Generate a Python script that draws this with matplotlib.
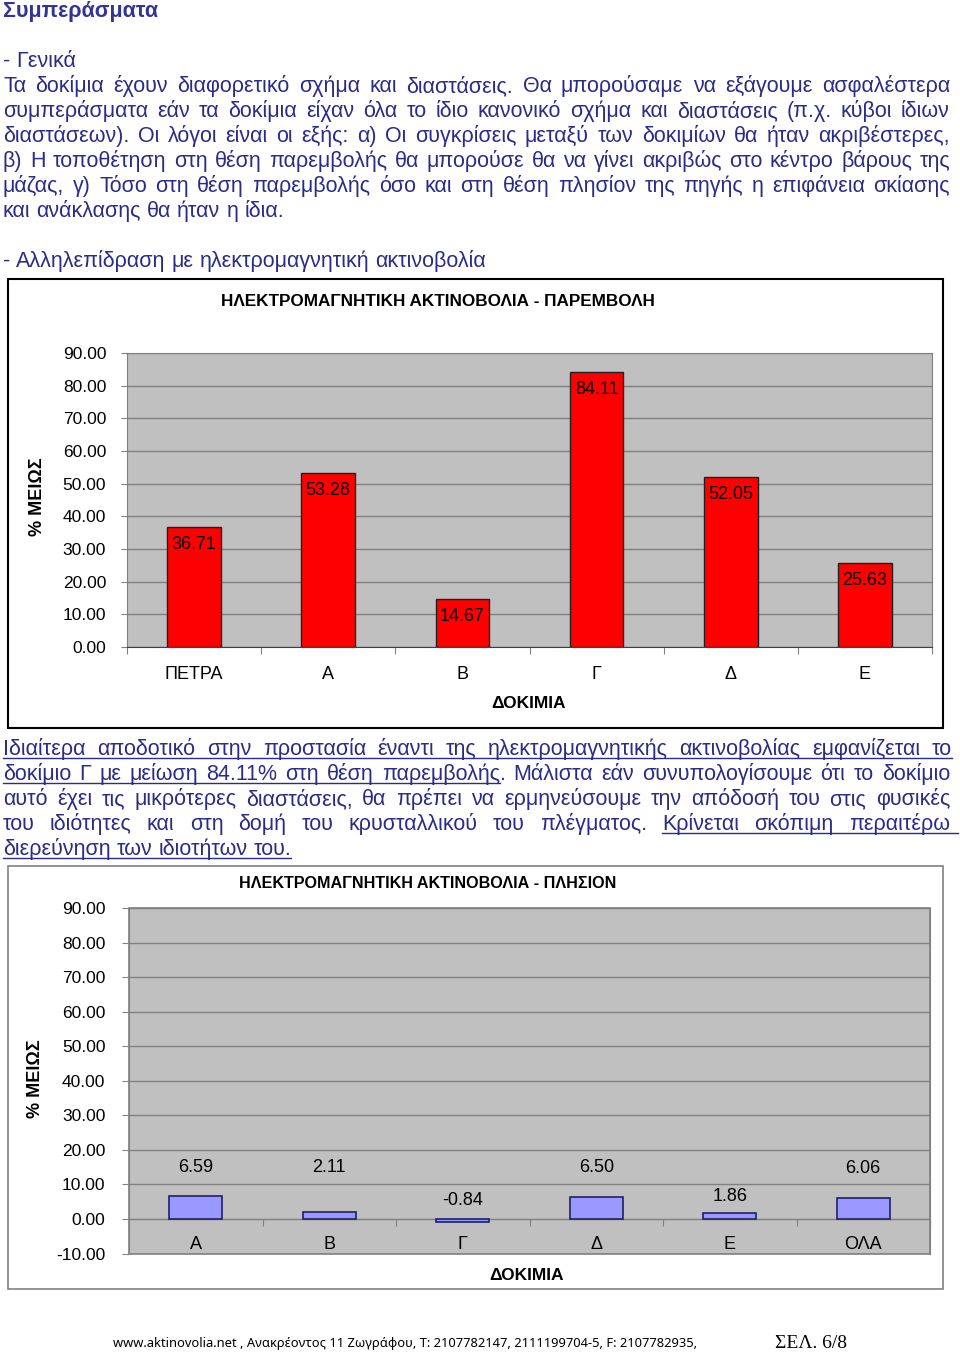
import numpy as np
import matplotlib.pyplot as plt
from matplotlib.patches import Rectangle

plt.rcParams['font.family'] = ['Liberation Sans', 'DejaVu Sans']

# chart data
categories_1 = ['ΠΕΤΡΑ', 'Α', 'Β', 'Γ', 'Δ', 'Ε']
values_1 = [36.71, 53.28, 14.67, 84.11, 52.05, 25.63]
y_ticks_1 = [0, 10, 20, 30, 40, 50, 60, 70, 80, 90]

categories_2 = ['Α', 'Β', 'Γ', 'Δ', 'Ε', 'ΟΛΑ']
values_2 = [6.59, 2.11, -0.84, 6.50, 1.86, 6.06]
y_ticks_2 = [-10, 0, 10, 20, 30, 40, 50, 60, 70, 80, 90]

# excel put the labels of the second chart at these heights
label_y_2 = [15.0, 15.0, 5.3, 15.0, 6.4, 14.6]

W, H = 960, 1352
NAVY = '#2B2B88'
FS = 15.5

fig = plt.figure(figsize=(W / 100, H / 100), dpi=100)
page = fig.add_axes([0, 0, 1, 1])
page.set_xlim(0, W)
page.set_ylim(H, 0)
page.axis('off')
renderer = fig.canvas.get_renderer()

SPACE = 0.278 * FS * 100 / 72


def px_rect(l, t, r, b):
    return [l / W, 1 - b / H, (r - l) / W, (b - t) / H]


def write_line(y, line, x1=None, underline=None, underline_to=None, x0=3):
    # '|' glues two pieces together without a space
    words = [w.split('|') for w in line.split(' ')]
    pieces = []
    for w in words:
        objs = [page.text(x0, y, p, va='baseline', ha='left', fontsize=FS, color=NAVY) for p in w]
        ws = [o.get_window_extent(renderer).width for o in objs]
        pieces.append((objs, ws))
    total = sum(sum(ws) for _, ws in pieces)
    gap = SPACE if x1 is None else (x1 - x0 - total) / (len(pieces) - 1)
    x = x0
    spans = []
    for objs, ws in pieces:
        for o, w in zip(objs, ws):
            o.set_x(x)
            spans.append((x, x + w))
            x += w
        x += gap
    if underline is not None:
        a, b = underline
        end = underline_to if underline_to else spans[b][1]
        page.plot([spans[a][0], end], [y + 3, y + 3], color=NAVY, lw=1)


# header text
page.text(3, 17, 'Συμπεράσματα', fontsize=15.5, fontweight='bold', color='#333399', va='baseline')
write_line(67, '- Γενικά')
para_1 = [
    'Τα δοκίμια έχουν διαφορετικό σχήμα και διαστάσεις. Θα μπορούσαμε να εξάγουμε ασφαλέστερα',
    'συμπεράσματα εάν τα δοκίμια είχαν όλα το ίδιο κανονικό σχήμα και διαστάσεις (π.χ. κύβοι ίδιων',
    'διαστάσεων). Οι λόγοι είναι οι εξής: α) Οι συγκρίσεις μεταξύ των δοκιμίων θα ήταν ακριβέστερες,',
    'β) Η τοποθέτηση στη θέση παρεμβολής θα μπορούσε θα να γίνει ακριβώς στο κέντρο βάρους της',
    'μάζας, γ) Τόσο στη θέση παρεμβολής όσο και στη θέση πλησίον της πηγής η επιφάνεια σκίασης',
]
for i, line in enumerate(para_1):
    write_line(92 + 25 * i, line, x1=950)
write_line(217, 'και ανάκλασης θα ήταν η ίδια.')
write_line(267, '- Αλληλεπίδραση με ηλεκτρομαγνητική ακτινοβολία')

# middle paragraph
write_line(755, 'Ιδιαίτερα αποδοτικό στην προστασία έναντι της ηλεκτρομαγνητικής ακτινοβολίας εμφανίζεται το',
           x1=952, underline=(0, -1))
write_line(780, 'δοκίμιο Γ με μείωση 84.11% στη θέση παρεμβολής|. Μάλιστα εάν συνυπολογίσουμε ότι το δοκίμιο',
           x1=950, underline=(0, 7))
write_line(805, 'αυτό έχει τις μικρότερες διαστάσεις, θα πρέπει να ερμηνεύσουμε την απόδοσή του στις φυσικές',
           x1=950)
write_line(830, 'του ιδιότητες και στη δομή του κρυσταλλικού του πλέγματος. Κρίνεται σκόπιμη περαιτέρω',
           x1=950, underline=(9, -1), underline_to=958)
write_line(855, 'διερεύνηση των ιδιοτήτων του.', underline=(0, -1))

# ---- chart 1 ----
page.add_patch(Rectangle((8, 279), 935, 449, fill=False, ec='black', lw=1.5))
page.text(438, 302, 'ΗΛΕΚΤΡΟΜΑΓΝΗΤΙΚΗ ΑΚΤΙΝΟΒΟΛΙΑ - ΠΑΡΕΜΒΟΛΗ', fontsize=12.3,
          fontweight='bold', ha='center', va='center')
page.text(528, 703, 'ΔΟΚΙΜΙΑ', fontsize=12.5, fontweight='bold', ha='center', va='center')
page.text(38, 497, '% ΜΕΙΩΣ', fontsize=13, fontweight='bold', rotation=90, ha='center', va='center')

ax1 = fig.add_axes(px_rect(127, 353, 932, 647))
x_1 = np.arange(len(categories_1))
ax1.set_facecolor('#C0C0C0')
ax1.bar(x_1, values_1, width=0.4, color='#FF0000', edgecolor='#202020', linewidth=1, zorder=3)
ax1.set_xlim(-0.5, len(categories_1) - 0.5)
ax1.set_ylim(0, 90)
ax1.set_yticks(y_ticks_1, [f'{v:.2f}' for v in y_ticks_1])
ax1.yaxis.grid(True, color='#808080', lw=1)
ax1.set_axisbelow(True)
ax1.set_xticks(np.arange(-0.5, len(categories_1)), [])
ax1.set_xticks(x_1, categories_1, minor=True)
ax1.tick_params(axis='x', which='major', length=5, color='#808080')
ax1.tick_params(axis='x', which='minor', length=0, pad=13.5, labelsize=13)
ax1.tick_params(axis='y', length=4.5, pad=10.5, labelsize=12.5, color='#808080')
for s in ax1.spines.values():
    s.set_color('#808080')
ax1.spines['bottom'].set_color('#404040')
for xi, v in zip(x_1, values_1):
    ax1.annotate(f'{v:.2f}', (xi, v), xytext=(0, -12.6), textcoords='offset points',
                 ha='center', va='center', fontsize=13, zorder=4)

# ---- chart 2 ----
page.add_patch(Rectangle((8, 866), 935, 423, fill=False, ec='#808080', lw=1.2))
page.text(428, 884, 'ΗΛΕΚΤΡΟΜΑΓΝΗΤΙΚΗ ΑΚΤΙΝΟΒΟΛΙΑ - ΠΛΗΣΙΟΝ', fontsize=11.6,
          fontweight='bold', ha='center', va='center')
page.text(527, 1275, 'ΔΟΚΙΜΙΑ', fontsize=12.5, fontweight='bold', ha='center', va='center')
page.text(35, 1079, '% ΜΕΙΩΣ', fontsize=13, fontweight='bold', rotation=90, ha='center', va='center')

ax2 = fig.add_axes(px_rect(129, 908, 930, 1253.6))
x_2 = np.arange(len(categories_2))
ax2.set_facecolor('#C0C0C0')
ax2.bar(x_2, values_2, width=0.4, color='#9999FF', edgecolor='#1F1F66', linewidth=1.2, zorder=3)
ax2.set_xlim(-0.5, len(categories_2) - 0.5)
ax2.set_ylim(-10, 90)
ax2.set_yticks(y_ticks_2, [f'{v:.2f}' for v in y_ticks_2])
ax2.yaxis.grid(True, color='#808080', lw=1)
ax2.set_axisbelow(True)
ax2.spines['bottom'].set_position(('data', 0))
ax2.set_xticks(np.arange(-0.5, len(categories_2)), [])
ax2.set_xticks(x_2, categories_2, minor=True)
ax2.tick_params(axis='x', which='major', length=5, color='#808080')
ax2.tick_params(axis='x', which='minor', length=0, pad=12, labelsize=13)
ax2.tick_params(axis='y', length=5, pad=12, labelsize=12.5, color='#808080')
for s in ax2.spines.values():
    s.set_color('#808080')
ax2.patch.set_edgecolor('#808080')
ax2.patch.set_linewidth(1.2)
for xi, v, ly in zip(x_2, values_2, label_y_2):
    ax2.text(xi, ly, f'{v:.2f}', ha='center', va='center', fontsize=13, zorder=4)

# footer
page.text(113, 1344, 'www.aktinovolia.net , Ανακρέοντος 11 Ζωγράφου, T: 2107782147, 2111199704-5, F: 2107782935,',
          family='Noto Sans', fontsize=9.3, va='center', color='black')
page.text(775, 1344, 'ΣΕΛ. 6/8', family='Liberation Serif', fontsize=14, va='center', color='black')

fig.savefig('out.png', dpi=100)
